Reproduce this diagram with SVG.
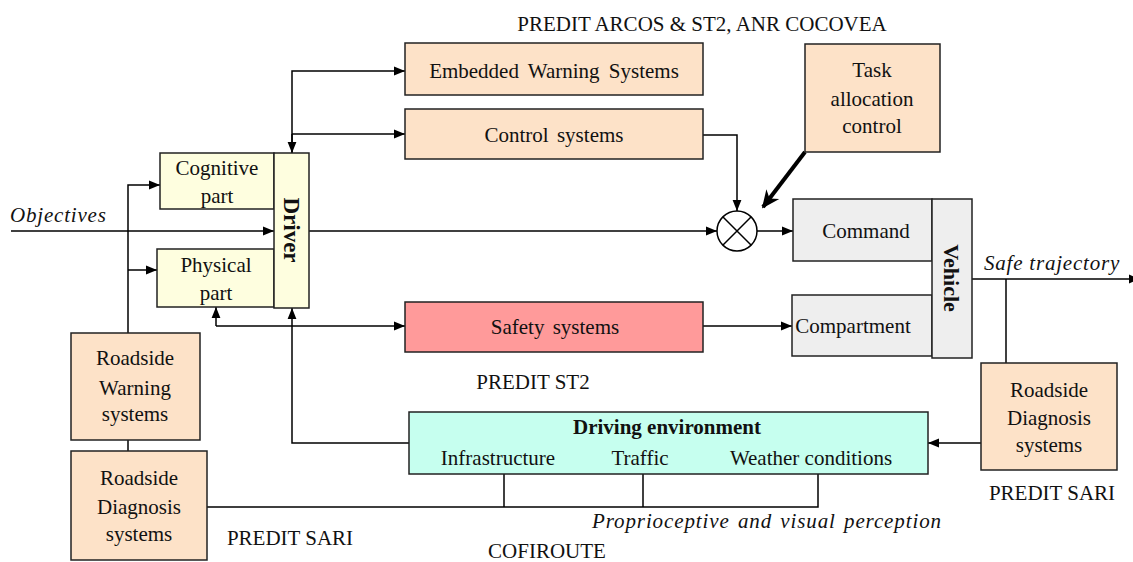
<svg xmlns="http://www.w3.org/2000/svg" width="1133" height="562" viewBox="0 0 1133 562">
<style>
text{font-family:"Liberation Serif","Times New Roman",serif;font-size:21px;fill:#111}
.c{text-anchor:middle}
.it{font-style:italic}
.b{font-weight:bold}
.box{stroke:#222;stroke-width:1.5}
.peach{fill:#FDE2C8}
.yel{fill:#FEFEDF}
.gray{fill:#EEEEEE}
.red{fill:#FF9A9A}
.aqua{fill:#C6FFEF}
.ln{fill:none;stroke:#000;stroke-width:1.5}
</style>
<defs>
<marker id="ah" viewBox="0 0 10 10" refX="10" refY="5" markerWidth="11" markerHeight="11" markerUnits="userSpaceOnUse" orient="auto">
<path d="M0,1 L10,5 L0,9 Z" fill="#000"/>
</marker>
<marker id="ahb" viewBox="0 0 10 10" refX="9" refY="5" markerWidth="18" markerHeight="18" markerUnits="userSpaceOnUse" orient="auto">
<path d="M0,0.5 L10,5 L0,9.5 L3,5 Z" fill="#000"/>
</marker>
</defs>

<g id="labels">
<text x="702" y="31" class="c">PREDIT ARCOS &amp; ST2, ANR COCOVEA</text>
<text x="10" y="222" class="it" letter-spacing="0.8">Objectives</text>
<text x="1052" y="270" class="c it" letter-spacing="0.8">Safe trajectory</text>
<text x="533" y="389" class="c">PREDIT ST2</text>
<text x="290" y="545" class="c">PREDIT SARI</text>
<text x="1052" y="500" class="c">PREDIT SARI</text>
<text x="767" y="528" class="c it" letter-spacing="0.9" word-spacing="2">Proprioceptive  and visual perception</text>
<text x="547" y="558" class="c">COFIROUTE</text>
</g>

<g id="connectors">
<path class="ln" d="M292,153 V71 H405" marker-end="url(#ah)"/>
<path class="ln" d="M292,134 H405" marker-end="url(#ah)"/>
<path class="ln" d="M292,134 V153" marker-end="url(#ah)"/>
<path class="ln" d="M703,135 H737 V211" marker-end="url(#ah)"/>
<path class="ln" d="M11,231 H274" marker-end="url(#ah)"/>
<path class="ln" d="M309,231 H717" marker-end="url(#ah)"/>
<path class="ln" d="M757,231 H793" marker-end="url(#ah)"/>
<path fill="none" stroke="#000" stroke-width="4" d="M805,152 L763,207" marker-end="url(#ahb)"/>
<path class="ln" d="M128,333 V185 H160" marker-end="url(#ah)"/>
<path class="ln" d="M128,270 H157" marker-end="url(#ah)"/>
<path class="ln" d="M128,440 V451"/>
<path class="ln" d="M216,326 H405" marker-end="url(#ah)"/>
<path class="ln" d="M216,326 V307" marker-end="url(#ah)"/>
<path class="ln" d="M409,443 H292 V308" marker-end="url(#ah)"/>
<path class="ln" d="M703,326 H792" marker-end="url(#ah)"/>
<path class="ln" d="M972,279 H1140" marker-end="url(#ah)"/>
<path class="ln" d="M1006,279 V363"/>
<path class="ln" d="M981,443 H928" marker-end="url(#ah)"/>
<path class="ln" d="M207,507 H818 V474"/>
<path class="ln" d="M504,474 V507"/>
<path class="ln" d="M643,474 V507"/>
</g>

<g id="embedded">
<rect class="box peach" x="405" y="43" width="298" height="52"/>
<text x="554" y="78" class="c" word-spacing="4">Embedded Warning Systems</text>
</g>
<g id="control">
<rect class="box peach" x="405" y="109" width="298" height="50"/>
<text x="554" y="142" class="c" word-spacing="3">Control systems</text>
</g>
<g id="task">
<rect class="box peach" x="805" y="44" width="135" height="108"/>
<text x="872" y="77" class="c">Task</text>
<text x="872" y="106" class="c">allocation</text>
<text x="872" y="133" class="c">control</text>
</g>
<g id="cognitive">
<rect class="box yel" x="160" y="153" width="114" height="56"/>
<text x="217" y="175" class="c">Cognitive</text>
<text x="217" y="203" class="c">part</text>
</g>
<g id="physical">
<rect class="box yel" x="157" y="249" width="117" height="58"/>
<text x="216" y="272" class="c">Physical</text>
<text x="216" y="300" class="c">part</text>
</g>
<g id="driver">
<rect class="box yel" x="274" y="153" width="35" height="155"/>
<text transform="translate(292,230) rotate(90)" class="c b" dy="0.35em" style="font-size:23px">Driver</text>
</g>
<g id="mixer">
<circle cx="737" cy="231" r="20" fill="#fff" stroke="#000" stroke-width="1.5"/>
<path class="ln" d="M723,217 L751,245 M751,217 L723,245"/>
</g>
<g id="command">
<rect class="box gray" x="793" y="199" width="139" height="62"/>
<text x="866" y="238" class="c">Command</text>
</g>
<g id="compartment">
<rect class="box gray" x="792" y="295" width="140" height="61"/>
<text x="853" y="333" class="c">Compartment</text>
</g>
<g id="vehicle">
<rect class="box gray" x="932" y="199" width="40" height="159"/>
<text transform="translate(952,278) rotate(90)" class="c b" dy="0.35em" style="font-size:22px">Vehicle</text>
</g>
<g id="safety">
<rect class="box red" x="405" y="302" width="298" height="50"/>
<text x="555" y="334" class="c" word-spacing="3">Safety systems</text>
</g>
<g id="roadside-warning">
<rect class="box peach" x="71" y="333" width="129" height="107"/>
<text x="135" y="365" class="c">Roadside</text>
<text x="135" y="395" class="c">Warning</text>
<text x="135" y="421" class="c">systems</text>
</g>
<g id="roadside-diagnosis-left">
<rect class="box peach" x="71" y="451" width="136" height="109"/>
<text x="139" y="485" class="c">Roadside</text>
<text x="139" y="514" class="c">Diagnosis</text>
<text x="139" y="541" class="c">systems</text>
</g>
<g id="driving-environment">
<rect class="box aqua" x="409" y="412" width="519" height="62"/>
<text x="667" y="434" class="c b">Driving environment</text>
<text x="498" y="465" class="c">Infrastructure</text>
<text x="640" y="465" class="c">Traffic</text>
<text x="811" y="465" class="c">Weather conditions</text>
</g>
<g id="roadside-diagnosis-right">
<rect class="box peach" x="981" y="363" width="136" height="107"/>
<text x="1049" y="397" class="c">Roadside</text>
<text x="1049" y="425" class="c">Diagnosis</text>
<text x="1049" y="452" class="c">systems</text>
</g>
</svg>
